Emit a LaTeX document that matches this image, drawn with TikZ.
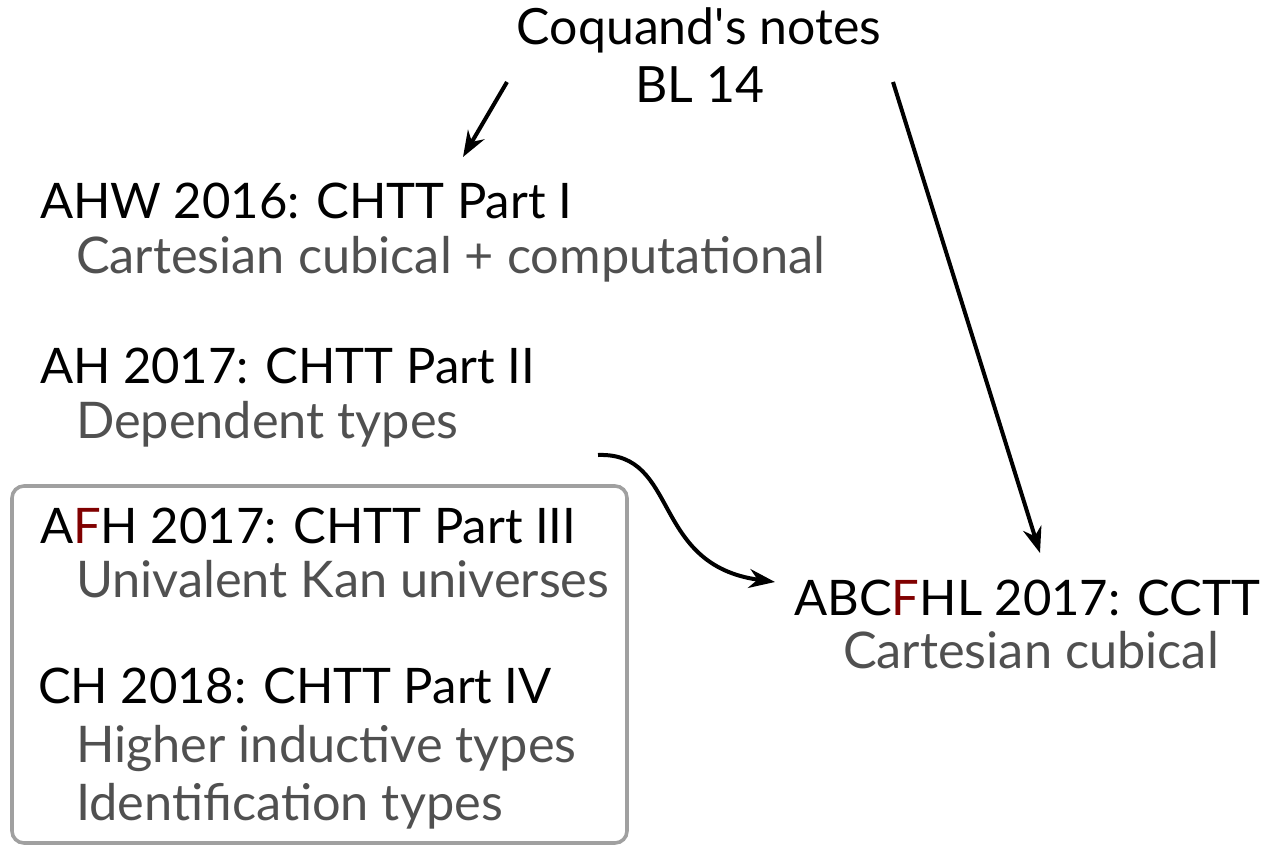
\documentclass[tikz,border=0pt]{standalone}
\usepackage{fontspec}
\setmainfont{Lato}
\usetikzlibrary{arrows.meta}
\definecolor{sub}{HTML}{505050}
\definecolor{fred}{HTML}{800000}
\definecolor{boxgrey}{HTML}{A0A0A0}
\begin{document}
\begin{tikzpicture}[x=1pt,y=-1pt,
  every node/.style={inner sep=0pt,outer sep=0pt},
  title/.style={anchor=base west,text=black,font=\fontsize{49}{58}\selectfont},
  subt/.style={anchor=base west,text=sub,font=\fontsize{50.5}{60}\selectfont},
  ctr/.style={anchor=base,text=black,font=\fontsize{50}{60}\selectfont},
  conn/.style={line width=4pt,-{Stealth[length=26pt,width=19pt]}},
  grp/.style={draw=boxgrey,line width=3.6pt,rounded corners=12pt}]
\useasboundingbox (0,0) rectangle (1265,845);
\draw[grp] (12,486) rectangle (627,843);
\node[ctr] (coq) at (699,45) {Coquand\textquotesingle s notes};
\node[ctr] (bl) at (700,103) {BL 14};
\node[title] (ahw) at (40,218) {AHW 2016: CHTT Part I};
\node[subt] (ahws) at (76,273) {Cartesian cubical + computational};
\node[title] (ah) at (40,383) {AH 2017: CHTT Part II};
\node[subt] (ahs) at (76,438) {Dependent types};
\node[title] (afh) at (40,543) {A\textcolor{fred}{F}H 2017: CHTT Part III};
\node[subt] (afhs) at (76,597) {Univalent Kan universes};
\node[title] (ch) at (38,703) {CH 2018: CHTT Part IV};
\node[subt] (chs1) at (76,762) {Higher inductive types};
\node[subt] (chs2) at (76,820) {Identification types};
\node[title,anchor=base east] (cctt) at (1260,615) {ABC\textcolor{fred}{F}HL 2017: CCTT};
\node[subt,anchor=base] (ccts) at (1031,668) {Cartesian cubical};
\coordinate (c1) at (507,82);
\coordinate (c2) at (893,82);
\coordinate (a1) at (463,157);
\coordinate (d1) at (598,455);
\coordinate (e1) at (775,582);
\coordinate (e2) at (1040,553);
\draw[conn] (c1) -- (a1);
\draw[conn] (c2) -- (e2);
\draw[conn] (d1) .. controls (680,452) and (650,565) .. (e1);
\end{tikzpicture}
\end{document}
